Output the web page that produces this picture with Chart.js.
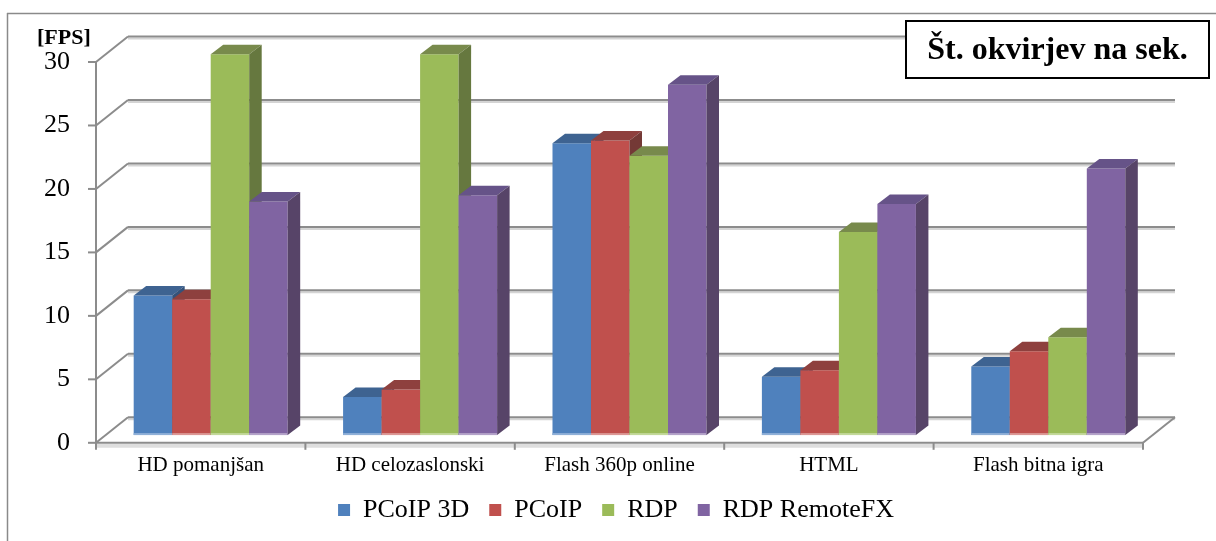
<!DOCTYPE html>
<html>
<head>
<meta charset="utf-8">
<script src="https://cdn.jsdelivr.net/npm/chart.js@4.4.1/dist/chart.umd.min.js"></script>
<style>
html,body{margin:0;padding:0;background:#fff;}
#wrap{position:relative;width:1216px;height:541px;}
</style>
</head>
<body>
<div id="wrap"><canvas id="c"></canvas></div>
<script>
// Frames per second per remote-display protocol and test scenario
const categories = ['HD pomanjšan', 'HD celozaslonski', 'Flash 360p online', 'HTML', 'Flash bitna igra'];
const seriesNames = ['PCoIP 3D', 'PCoIP', 'RDP', 'RDP RemoteFX'];
const pcoip3d = [11.0, 3.0, 23.0, 4.6, 5.4];
const pcoip = [10.7, 3.6, 23.2, 5.1, 6.6];
const rdp = [30.0, 30.0, 22.0, 16.0, 7.7];
const rdpRemoteFx = [18.4, 18.9, 27.6, 18.2, 21.0];
const yTicks = [0, 5, 10, 15, 20, 25, 30];
const unitLabel = '[FPS]';
const chartTitle = 'Št. okvirjev na sek.';

// colours for the front, top and side faces of each series
const FRONT = ['#4F81BD', '#C0504D', '#9BBB59', '#8064A2'];
const TOP = ['#3E6391', '#8E403E', '#788A4C', '#665388'];
const SIDE = ['#34527A', '#743936', '#66783F', '#574468'];
const GLOW = ['#8FB0D8', '#DC9896', '#C3D99A', '#B4A3C9'];

// oblique projection offsets
const WALL = {dx: 32, dy: -25.5};
const BAR_SHIFT = {dx: 10, dy: -7.7};
const BAR_DEPTH = {dx: 12.5, dy: -9.5};
const GRID = '#8c8c8c';
const GRID_SHADE = '#d4d4d4';
const SERIF = "'Liberation Serif', 'Times New Roman', serif";

function line(ctx, x1, y1, x2, y2, color, w) {
  ctx.beginPath();
  ctx.moveTo(x1, y1);
  ctx.lineTo(x2, y2);
  ctx.strokeStyle = color;
  ctx.lineWidth = w;
  ctx.stroke();
}
function poly(ctx, pts, color) {
  ctx.beginPath();
  ctx.moveTo(pts[0][0], pts[0][1]);
  for (let k = 1; k < pts.length; k++) ctx.lineTo(pts[k][0], pts[k][1]);
  ctx.closePath();
  ctx.fillStyle = color;
  ctx.fill();
}

const frame3d = {
  id: 'frame3d',
  afterLayout(chart) {
    // let the category labels hang below the axis box without being clipped
    chart.scales.x.bottom = chart.height;
  },
  beforeDatasetsDraw(chart) {
    const {ctx, chartArea: a, scales: {x, y}} = chart;
    ctx.save();
    ctx.lineCap = 'butt';
    const y0 = y.getPixelForValue(0);
    const yTop = y.getPixelForValue(yTicks[yTicks.length - 1]);

    // back wall gridlines, side wall diagonals and value ticks
    yTicks.forEach(v => {
      const yv = y.getPixelForValue(v);
      const by = yv + WALL.dy;
      line(ctx, a.left + WALL.dx, by + 2, a.right + WALL.dx, by + 2, GRID_SHADE, 2);
      line(ctx, a.left + WALL.dx, by, a.right + WALL.dx, by, GRID, 2);
      line(ctx, a.left, yv, a.left + WALL.dx, by, GRID, 2);
      line(ctx, a.left - 8, yv, a.left, yv, GRID, 2);
    });

    // floor edges
    line(ctx, a.left, y0 + 3, a.right, y0 + 3, '#dedede', 4);
    line(ctx, a.left, y0, a.right, y0, GRID, 2);
    line(ctx, a.right, y0, a.right + WALL.dx, y0 + WALL.dy, GRID, 2);

    // front value axis
    line(ctx, a.left, yTop, a.left, y0 + 6, GRID, 2);

    // category boundary ticks
    const step = x.getPixelForValue(1) - x.getPixelForValue(0);
    for (let i = 0; i <= categories.length; i++) {
      const bx = x.getPixelForValue(0) - step / 2 + i * step;
      line(ctx, bx, y0, bx, y0 + 7, GRID, 2);
    }

    // columns: front face from the bar element, then top and side faces
    for (let i = 0; i < categories.length; i++) {
      chart.data.datasets.forEach((ds, d) => {
        const el = chart.getDatasetMeta(d).data[i];
        const p = el.getProps(['x', 'y', 'base', 'width'], true);
        const l = p.x - p.width / 2, r = p.x + p.width / 2, t = p.y, b = p.base;
        ctx.save();
        ctx.translate(BAR_SHIFT.dx, BAR_SHIFT.dy);
        el.draw(ctx);
        ctx.fillStyle = GLOW[d];
        ctx.fillRect(l, b - 2, r - l, 2);
        poly(ctx, [[l, t], [l + BAR_DEPTH.dx, t + BAR_DEPTH.dy], [r + BAR_DEPTH.dx, t + BAR_DEPTH.dy], [r, t]], TOP[d]);
        poly(ctx, [[r, t], [r + BAR_DEPTH.dx, t + BAR_DEPTH.dy], [r + BAR_DEPTH.dx, b + BAR_DEPTH.dy], [r, b]], SIDE[d]);
        ctx.restore();
      });
    }
    ctx.restore();
    return false;
  },
  afterDraw(chart) {
    const {ctx, width} = chart;
    ctx.save();
    // outer frame
    line(ctx, 7, 13.5, width, 13.5, '#8a8a8a', 1.5);
    line(ctx, 7.5, 13, 7.5, chart.height, '#8a8a8a', 1.5);

    // unit label over the value axis
    ctx.fillStyle = '#000';
    ctx.font = 'bold 22px ' + SERIF;
    ctx.textAlign = 'left';
    ctx.textBaseline = 'alphabetic';
    ctx.fillText(unitLabel, 37, 43.5);

    // boxed title
    const bx = width - 310, by = 21, bw = 303, bh = 57;
    ctx.fillStyle = '#fff';
    ctx.fillRect(bx, by, bw, bh);
    ctx.strokeStyle = '#000';
    ctx.lineWidth = 2;
    ctx.strokeRect(bx, by, bw, bh);
    ctx.fillStyle = '#000';
    ctx.font = 'bold 32px ' + SERIF;
    ctx.textAlign = 'center';
    ctx.textBaseline = 'middle';
    ctx.fillText(chartTitle, bx + bw / 2, by + bh / 2 + 1);
    ctx.restore();
  }
};

const seriesValues = [pcoip3d, pcoip, rdp, rdpRemoteFx];

Chart.defaults.font.family = SERIF;
Chart.defaults.color = '#000';

new Chart(document.getElementById('c'), {
  type: 'bar',
  data: {
    labels: categories,
    datasets: seriesNames.map((name, d) => ({
      label: name,
      data: seriesValues[d],
      yAxisID: 'y',
      backgroundColor: FRONT[d],
      borderWidth: 0,
      categoryPercentage: 0.7355,
      barPercentage: 1
    }))
  },
  options: {
    responsive: true,
    maintainAspectRatio: false,
    animation: false,
    layout: {padding: {left: 16, right: 0, top: 62, bottom: 8}},
    plugins: {
      tooltip: {enabled: false},
      title: {display: false},
      legend: {
        position: 'bottom',
        labels: {
          boxWidth: 12,
          boxHeight: 12,
          padding: 20,
          font: {size: 26, family: SERIF},
          color: '#000'
        }
      }
    },
    scales: {
      x: {
        grid: {display: false, drawTicks: false},
        border: {display: false},
        ticks: {font: {size: 21, family: SERIF}, color: '#000', padding: 10, maxRotation: 0, autoSkip: false},
        afterFit(scale) { scale.height = 34.2; }
      },
      y: {
        min: 0,
        max: 30,
        grid: {display: false, drawTicks: false},
        border: {display: false},
        ticks: {stepSize: 5, font: {size: 26, family: SERIF}, color: '#000', padding: 26},
        afterFit(scale) { scale.width = 80; }
      },
      // empty band on the right that leaves room for the receding back wall
      depthRoom: {
        type: 'linear',
        position: 'right',
        display: true,
        grid: {display: false, drawTicks: false},
        border: {display: false},
        ticks: {display: false},
        afterFit(scale) { scale.width = 73; }
      }
    }
  },
  plugins: [frame3d]
});
</script>
</body>
</html>
